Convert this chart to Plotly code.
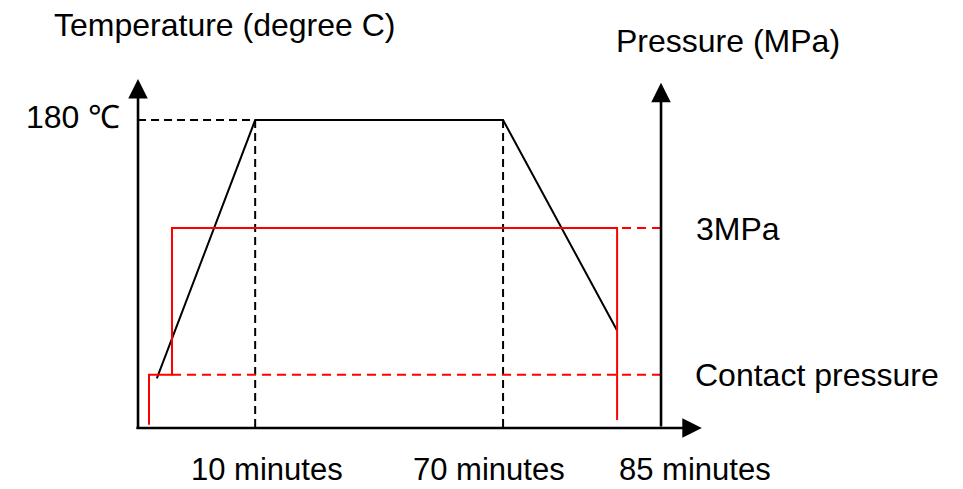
import plotly.graph_objects as go

# ---------------- data (schematic) ----------------
# x: schematic time position (0 = temperature axis, 100 = pressure axis)
# y: temperature in degree C ; y2: pressure in MPa
time_labels = ["10 minutes", "70 minutes", "85 minutes"]
time_marks = [22.4, 69.8, 91.6]

temp_x = [3.6, 22.4, 69.8, 91.6]
temp_y = [29, 180, 180, 57]
temp_max = 180
temp_label = "180 ℃"

press_x = [2.1, 2.1, 6.5, 6.5, 91.6, 91.6]
press_y = [0.05, 0.8, 0.8, 3.0, 3.0, 0.12]
contact_pressure = 0.8
max_pressure = 3.0
pressure_labels = ["3MPa", "Contact pressure"]

axis_titles = ["Temperature (degree C)", "Pressure (MPa)"]

# ---------------- geometry helpers ----------------
W, H = 963, 489
X_RANGE = [-26.39, 157.74]
Y_RANGE = [-35.65, 250.13]
Y2_RANGE = [-0.915, 6.42]

BLACK = "#000000"
RED = "#ff0000"
FONT = dict(family="Liberation Sans, Arial, sans-serif", size=32, color=BLACK)
FONT_BOTTOM = dict(family="Liberation Sans, Arial, sans-serif", size=31, color=BLACK)

fig = go.Figure()

# black dashed guide lines
fig.add_trace(go.Scatter(x=[0, time_marks[0]], y=[temp_max, temp_max], mode="lines",
                         line=dict(color=BLACK, width=2, dash="8px,5px"), hoverinfo="skip"))
for tm in time_marks[:2]:
    fig.add_trace(go.Scatter(x=[tm, tm], y=[temp_max, 0], mode="lines",
                             line=dict(color=BLACK, width=2, dash="8px,5px"), hoverinfo="skip"))

# red dashed guide lines (pressure levels)
fig.add_trace(go.Scatter(x=[100, press_x[-1]], y=[max_pressure, max_pressure], mode="lines",
                         yaxis="y2", line=dict(color=RED, width=2, dash="9px,6px"), hoverinfo="skip"))
fig.add_trace(go.Scatter(x=[100, press_x[2]], y=[contact_pressure, contact_pressure], mode="lines",
                         yaxis="y2", line=dict(color=RED, width=2, dash="9px,6px"), hoverinfo="skip"))

# temperature profile
fig.add_trace(go.Scatter(x=temp_x, y=temp_y, mode="lines",
                         line=dict(color=BLACK, width=2), hoverinfo="skip"))
# pressure profile
fig.add_trace(go.Scatter(x=press_x, y=press_y, mode="lines", yaxis="y2",
                         line=dict(color=RED, width=2), hoverinfo="skip"))

# axes with arrowheads
arrow = dict(showarrow=True, arrowhead=2, arrowsize=1.5, arrowwidth=2.6,
             arrowcolor=BLACK, text="", xref="x", yref="y", axref="x", ayref="y")
fig.add_annotation(x=0, y=204, ax=0, ay=-1.2, **arrow)
fig.add_annotation(x=107.8, y=0, ax=-0.6, ay=0, **arrow)
fig.add_annotation(x=100, y=201.7, ax=100, ay=0, **arrow)

def txt(s, cx, cy, font=FONT):
    fig.add_annotation(text=s, x=cx / W, y=1 - cy / H, xref="paper", yref="paper",
                       xanchor="center", yanchor="middle", showarrow=False, font=font)

txt(axis_titles[0], 224.5, 25)
txt(axis_titles[1], 728, 41)
txt(temp_label, 73, 117.5)
txt(pressure_labels[0], 737.5, 229)
txt(pressure_labels[1], 816.5, 374.5)
for lab, cx in zip(time_labels, [266.5, 489, 695]):
    txt(lab, cx, 469.5, FONT_BOTTOM)

fig.update_layout(
    width=W, height=H, margin=dict(l=0, r=0, t=0, b=0, pad=0),
    paper_bgcolor="white", plot_bgcolor="white", showlegend=False,
    xaxis=dict(range=X_RANGE, visible=False, fixedrange=True),
    yaxis=dict(range=Y_RANGE, visible=False, fixedrange=True),
    yaxis2=dict(range=Y2_RANGE, visible=False, overlaying="y", fixedrange=True),
)

fig.write_html("out.html", config={"displayModeBar": False},
               post_script="document.body.style.margin='0';document.body.style.overflow='hidden';")
